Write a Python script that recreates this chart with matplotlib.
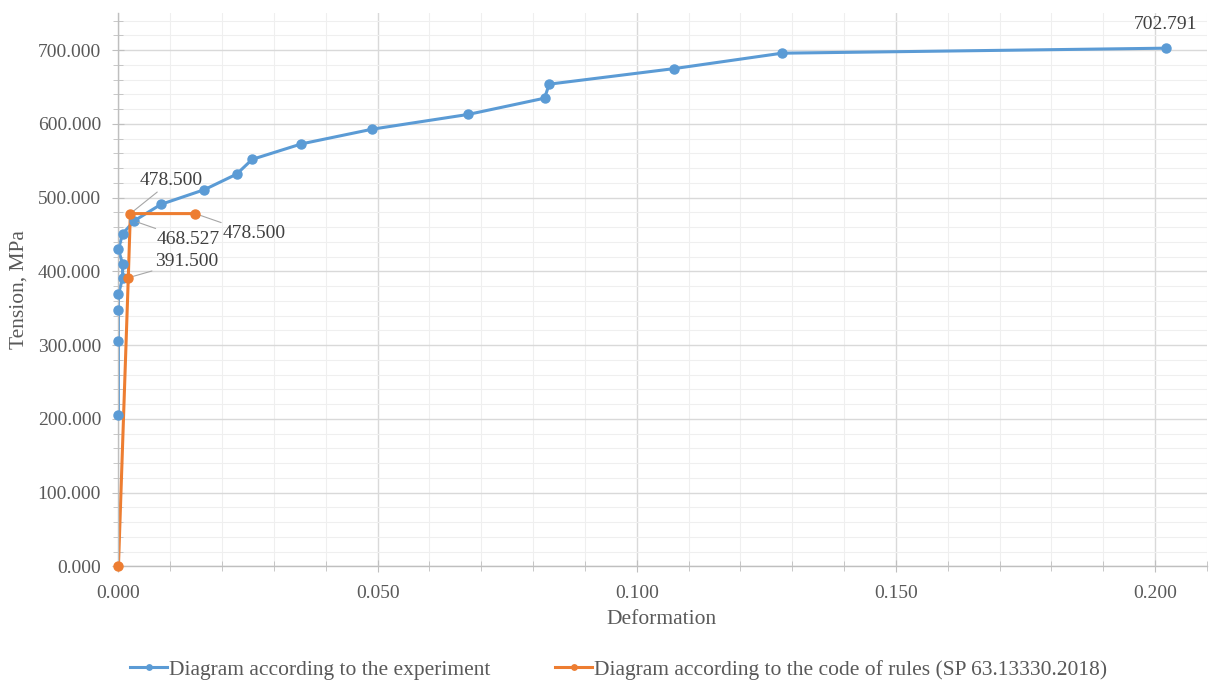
import numpy as np
import matplotlib
matplotlib.use('Agg')
import matplotlib.pyplot as plt
from matplotlib.ticker import MultipleLocator, FormatStrFormatter

# values
exp_strain = [0, 0, 0, 0, 0.0008, 0.0008, 0, 0.0008, 0.0030, 0.0082, 0.0166,
              0.0228, 0.0258, 0.0353, 0.0490, 0.0675, 0.0822, 0.0831, 0.1071,
              0.1280, 0.2020]
exp_stress = [205, 306, 348, 369, 391, 410, 430, 451, 468.527, 491, 511,
              532, 552, 573, 593, 613, 635, 654, 675, 696, 702.791]

code_strain = [0, 0.0019, 0.0023, 0.0148]
code_stress = [0, 391.5, 478.5, 478.5]

exp_name = 'Diagram according to the experiment'
code_name = 'Diagram according to the code of rules (SP 63.13330.2018)'

blue = '#5B9BD5'
orange = '#ED7D31'
txt = '#595959'

plt.rcParams['font.family'] = ['Liberation Serif', 'DejaVu Serif']
plt.rcParams['font.size'] = 14

fig = plt.figure(figsize=(12.11, 6.82), dpi=100)
ax = fig.add_axes([0.0978, 0.1694, 0.8989, 0.811])

# lines are clipped to the plot area (like the original), markers are not
ax.plot(exp_strain, exp_stress, '-', color=blue, lw=2.2, zorder=2)
ax.plot(exp_strain, exp_stress, 'o', color=blue, ms=6.5, clip_on=False, zorder=3)
ax.plot(code_strain, code_stress, '-', color=orange, lw=2.2, zorder=2.2)
ax.plot(code_strain, code_stress, 'o', color=orange, ms=6.5, clip_on=False, zorder=4)

# legend handles
ax.plot([], [], '-o', color=blue, lw=2.2, ms=6.5, label=exp_name)
ax.plot([], [], '-o', color=orange, lw=2.2, ms=6.5, label=code_name)

ax.set_xlim(0, 0.21)
ax.set_ylim(0, 750)
ax.xaxis.set_major_locator(MultipleLocator(0.05))
ax.xaxis.set_minor_locator(MultipleLocator(0.01))
ax.yaxis.set_major_locator(MultipleLocator(100))
ax.yaxis.set_minor_locator(MultipleLocator(20))
ax.xaxis.set_major_formatter(FormatStrFormatter('%.3f'))
ax.yaxis.set_major_formatter(FormatStrFormatter('%.3f'))

ax.grid(which='major', color='#d9d9d9', lw=1.0)
ax.grid(which='minor', color='#efefef', lw=0.8)
ax.set_axisbelow(True)

for s in ['top', 'right']:
    ax.spines[s].set_visible(False)
for s in ['left', 'bottom']:
    ax.spines[s].set_color('#bfbfbf')
    ax.spines[s].set_linewidth(1.0)
    ax.spines[s].set_zorder(2.5)

ax.tick_params(which='both', direction='inout', color='#bfbfbf', labelcolor=txt)
ax.tick_params(which='major', length=9, labelsize=14)
ax.tick_params(which='minor', length=7)
ax.tick_params(axis='y', pad=8)
ax.tick_params(axis='x', pad=9)

ax.set_xlabel('Deformation', color=txt, fontsize=15.5)
ax.xaxis.label.set_va('center')
ax.xaxis.set_label_coords(0.499, -0.0967)
ax.set_ylabel('Tension, MPa', color=txt, fontsize=15.5)
ax.yaxis.label.set_va('center')
ax.yaxis.set_label_coords(-0.091, 0.5)

# data labels
lead = dict(arrowstyle='-', color='#a6a6a6', lw=0.8, shrinkA=0, shrinkB=3)
lab = dict(ha='center', va='center', color='#404040', fontsize=14,
           textcoords='data', arrowprops=lead)
ax.annotate('478.500', xy=(code_strain[2], code_stress[2]), xytext=(0.0102, 523), **lab)
ax.annotate('468.527', xy=(exp_strain[8], exp_stress[8]), xytext=(0.0134, 443), **lab)
ax.annotate('478.500', xy=(code_strain[3], code_stress[3]), xytext=(0.0261, 451), **lab)
ax.annotate('391.500', xy=(code_strain[1], code_stress[1]), xytext=(0.0131, 414), **lab)
ax.annotate('702.791', xy=(exp_strain[-1], exp_stress[-1]), xytext=(0.2020, 735),
            ha='center', va='center', color='#404040', fontsize=14)

fig.legend(loc='center', bbox_to_anchor=(0.511, 0.018), ncol=2, frameon=False,
           handlelength=1.72, handletextpad=0.1, columnspacing=3.0,
           markerscale=0.6, labelcolor=txt, fontsize=15.5)

fig.savefig('out.png', dpi=100)
